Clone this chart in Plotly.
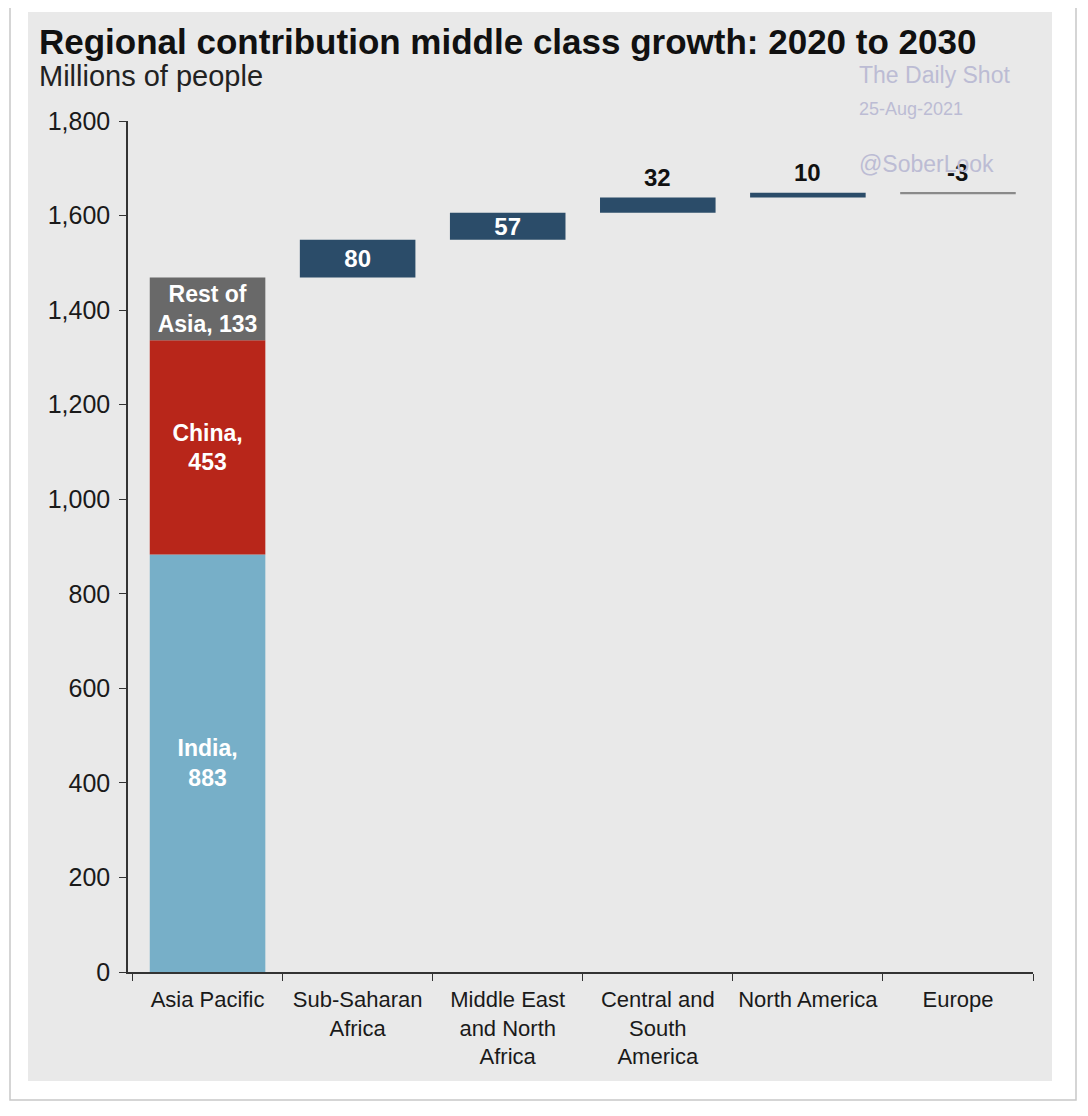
import numpy as np
import plotly.graph_objects as go

# --- data -----------------------------------------------------------------
regions = [
    "Asia Pacific",
    "Sub-Saharan<br>Africa",
    "Middle East<br>and North<br>Africa",
    "Central and<br>South<br>America",
    "North America",
    "Europe",
]
asia_parts = ["India", "China", "Rest of Asia"]
asia_values = [883, 453, 133]
asia_labels = ["India,<br>883", "China,<br>453", "Rest of<br>Asia, 133"]
asia_colors = ["#77afc8", "#b8261a", "#696969"]

other_values = [80, 57, 32, 10, -3]
y_ticks = [0, 200, 400, 600, 800, 1000, 1200, 1400, 1600, 1800]

NAVY = "#2b4c69"
FONT = "Liberation Sans, Arial, Helvetica, sans-serif"

# page body adds an 8px margin, so work in screenshot pixels minus that
OFF = 8
W, H = 1088 - OFF, 1116 - OFF
PL, PR, PT, PB = 128 - OFF, 1033 - OFF, 121 - OFF, 972 - OFF


def px_x(p):
    return (p - OFF - PL) / (PR - PL)


def px_y(p):
    return (PB - (p - OFF)) / (PB - PT)


fig = go.Figure()

# stacked Asia Pacific bar
base = 0
for name, val, lab, col in zip(asia_parts, asia_values, asia_labels, asia_colors):
    fig.add_bar(
        x=[regions[0]], y=[val], base=[base], name=name,
        marker=dict(color=col, line_width=0),
        text=[lab], textposition="inside", insidetextanchor="middle",
        textangle=0, constraintext="none",
        textfont=dict(color="white", size=23, family=FONT, weight="bold"),
        width=0.77,
    )
    base += val

# floating bars for the other regions
bases = list(np.cumsum([base] + other_values[:-1]))
tops = [b + v for b, v in zip(bases, other_values)]
colors = [NAVY if v > 0 else "#8a8a8a" for v in other_values]
inside = [str(v) if abs(v) >= 50 else "" for v in other_values]
fig.add_bar(
    x=regions[1:], y=other_values, base=bases,
    marker=dict(color=colors, line_width=0),
    text=inside, textposition="inside", insidetextanchor="middle",
    textangle=0, constraintext="none",
    textfont=dict(color="white", size=24, family=FONT, weight="bold"),
    width=0.77,
)

annotations = []
for reg, v, b, t in zip(regions[1:], other_values, bases, tops):
    if abs(v) < 50:
        annotations.append(dict(
            x=reg, y=max(b, t), xref="x", yref="y", text=f"<b>{v}</b>",
            showarrow=False, yanchor="bottom", yshift=5,
            font=dict(size=24, color="#111", family=FONT),
        ))

# titles
annotations.append(dict(
    x=px_x(37), y=px_y(41), xref="paper", yref="paper", xanchor="left", yanchor="middle",
    text="<b>Regional contribution middle class growth: 2020 to 2030</b>",
    showarrow=False, font=dict(size=35, color="#111", family=FONT),
))
annotations.append(dict(
    x=px_x(37), y=px_y(76), xref="paper", yref="paper", xanchor="left", yanchor="middle",
    text="Millions of people", showarrow=False,
    font=dict(size=29, color="#222", family=FONT),
))

# watermark
wm = "#bcbcd4"
for txt, yy, sz in [("The Daily Shot", 75, 23), ("25-Aug-2021", 109, 18), ("@SoberLook", 164, 23)]:
    annotations.append(dict(
        x=px_x(857), y=px_y(yy), xref="paper", yref="paper", xanchor="left", yanchor="middle",
        text=txt, showarrow=False, font=dict(size=sz, color=wm, family=FONT),
    ))

shapes = [
    # outer white frame with thin border
    dict(type="rect", xref="paper", yref="paper", layer="below",
         x0=px_x(10), x1=px_x(1076), y0=px_y(1100), y1=px_y(-5),
         fillcolor="white", line=dict(color="#c8c8c8", width=1.5)),
    # grey chart panel
    dict(type="rect", xref="paper", yref="paper", layer="below",
         x0=px_x(28), x1=px_x(1052), y0=px_y(1081), y1=px_y(12),
         fillcolor="#e9e9e9", line_width=0),
]

fig.update_layout(
    width=W, height=H,
    margin=dict(l=PL, r=W - PR, t=PT, b=H - PB),
    paper_bgcolor="white", plot_bgcolor="rgba(0,0,0,0)",
    barmode="overlay", showlegend=False,
    font=dict(family=FONT, color="#1a1a1a"),
    annotations=annotations, shapes=shapes,
    xaxis=dict(
        type="category", categoryorder="array", categoryarray=regions,
        range=[-0.53, 5.5], showline=True, linecolor="#333", linewidth=1.5,
        ticks="outside", tickson="boundaries", ticklen=7, tickcolor="#333",
        tickangle=0, automargin=False, ticklabelstandoff=7,
        tickfont=dict(size=22, color="#1a1a1a"), showgrid=False,
    ),
    yaxis=dict(
        range=[0, 1800], tickvals=y_ticks, tickformat=",",
        showline=True, linecolor="#333", linewidth=1.5,
        ticks="outside", ticklen=7, tickcolor="#333", automargin=False,
        ticklabelstandoff=4,
        tickfont=dict(size=25, color="#1a1a1a"), showgrid=False, zeroline=False,
    ),
)

fig.write_html("out.html")
